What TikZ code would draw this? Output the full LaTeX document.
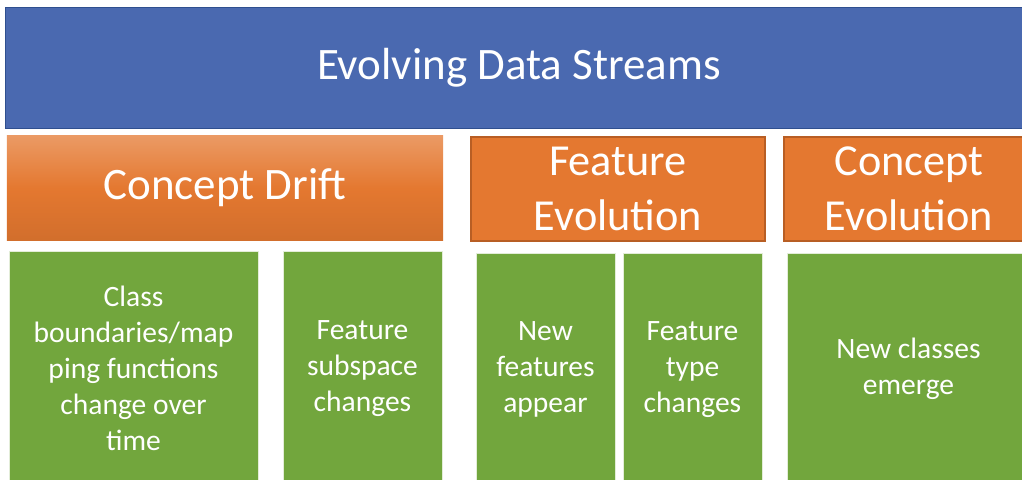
\documentclass[tikz,border=0pt]{standalone}
\usepackage{fontspec}
\setmainfont{Carlito}
\usepackage{tikz}
\usetikzlibrary{positioning}
\definecolor{topblue}{HTML}{4A69B0}
\definecolor{topblueline}{HTML}{2F4F8F}
\definecolor{catorange}{HTML}{E47830}
\definecolor{catline}{HTML}{B85E24}
\definecolor{leafgreen}{HTML}{72A63D}
\tikzset{
	topbox/.style={draw=topblueline,line width=0.6pt,fill=topblue,text=white,inner sep=0pt,font=\fontsize{32}{36}\selectfont},
	catbox/.style={draw=catline,line width=0.8pt,fill=catorange,text=white,align=center,inner sep=0pt,font=\fontsize{31.5}{39}\selectfont},
	leafbox/.style={draw=white!80!leafgreen,line width=0.3pt,fill=leafgreen,text=white,align=center,inner sep=0pt,font=\fontsize{21}{25.6}\selectfont}
}
\begin{document}
\begin{tikzpicture}[x=0.025cm,y=-0.025cm]
	\useasboundingbox (0,0) rectangle (1022,480);
	\clip (0,0) rectangle (1022,480);
	\node[topbox,minimum width=25.65cm,minimum height=3.025cm,text depth=0.2cm] (streams) at (519,67.5) {Evolving Data Streams};
	\node[catbox,draw=none,top color=catorange!75!white,bottom color=catorange!92!black,middle color=catorange,minimum width=10.9cm,minimum height=2.6cm,font=\fontsize{32}{39}\selectfont] (drift) at (225,188) {Concept Drift};
	\node[catbox,minimum width=7.35cm,minimum height=2.6cm] (featevo) at (618,189) {Feature\\Evolution};
	\node[catbox,minimum width=6.25cm,minimum height=2.6cm] (conceptevo) at (909,189) {Concept\\Evolution};
	\node[leafbox,minimum width=6.225cm,minimum height=5.85cm] (boundaries) at (133.5,368) {Class\\boundaries/map\\ping functions\\change over\\time};
	\node[leafbox,minimum width=3.975cm,minimum height=5.85cm,text depth=0.12cm] (subspace) at (362.5,368) {Feature\\subspace\\changes};
	\node[leafbox,minimum width=3.475cm,minimum height=5.8cm,text depth=0.12cm] (newfeat) at (545.5,369) {New\\features\\appear};
	\node[leafbox,minimum width=3.475cm,minimum height=5.8cm,text depth=0.12cm] (feattype) at (692.5,369) {Feature\\type\\changes};
	\node[leafbox,minimum width=6.075cm,minimum height=5.8cm,text depth=0.12cm] (newclass) at (908.5,369) {New classes\\emerge};
\end{tikzpicture}
\end{document}
